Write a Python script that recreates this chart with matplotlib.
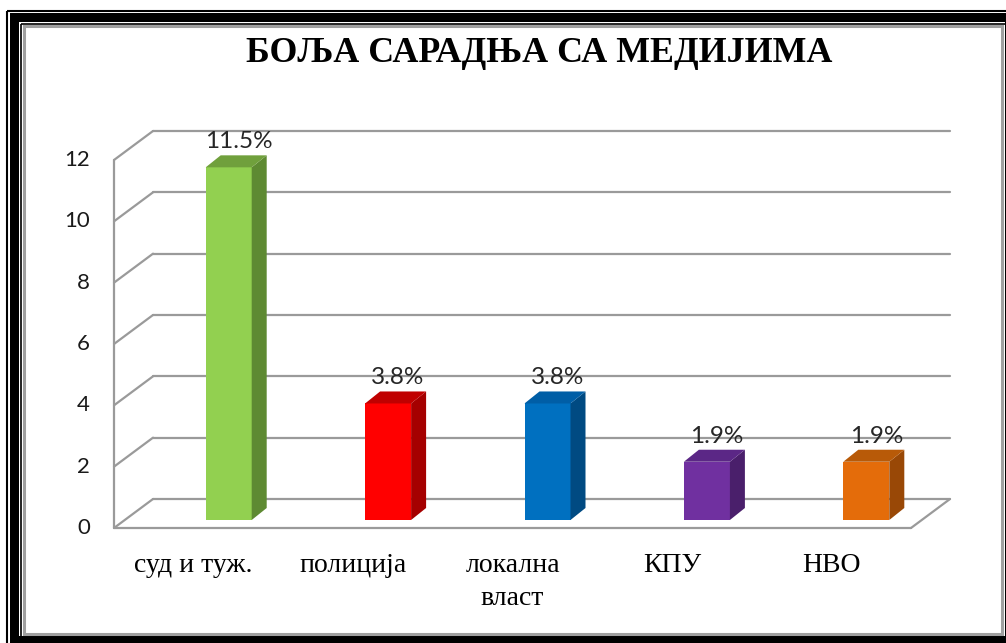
import matplotlib

matplotlib.use("Agg")
import matplotlib.pyplot as plt
from matplotlib.patches import Polygon, Rectangle

# data
categories = ["суд и туж.", "полиција", "локална\nвласт", "КПУ", "НВО"]
values = [11.5, 3.8, 3.8, 1.9, 1.9]
value_labels = ["11.5%", "3.8%", "3.8%", "1.9%", "1.9%"]
yticks = [0, 2, 4, 6, 8, 10, 12]
title = "БОЉА САРАДЊА СА МЕДИЈИМА"

front_colors = ["#92D050", "#FF0000", "#0070C0", "#7030A0", "#E46C0A"]
side_colors = ["#5E8A32", "#A50000", "#004A82", "#4A1F6B", "#994806"]
top_colors = ["#70A03C", "#C00000", "#005EA6", "#5B2786", "#B85A08"]

W, H = 1006, 643
fig = plt.figure(figsize=(W / 100, H / 100), dpi=100)
fig.patch.set_facecolor("white")

# decorative frame, in pixel coordinates
fr = fig.add_axes([0, 0, 1, 1], zorder=0)
fr.set_xlim(0, W)
fr.set_ylim(H, 0)
fr.axis("off")
fr.plot([7, 7], [11, 700], color="black", lw=1.5, solid_capstyle="butt")
fr.plot([7, 1100], [11, 11], color="black", lw=1.5, solid_capstyle="butt")
fr.add_patch(Rectangle((10, 13), 1200, 700, facecolor="black", edgecolor="none"))
fr.add_patch(Rectangle((19, 22), 1005 - 19, 636 - 22, facecolor="white", edgecolor="none"))
fr.plot([21.5, 21.5], [23.5, 636], color="black", lw=1.2, solid_capstyle="butt")
fr.plot([21.5, 1005], [23.5, 23.5], color="black", lw=1.2, solid_capstyle="butt")
fr.add_patch(Rectangle((24.5, 26), 1002.5 - 24.5, 633.5 - 26, facecolor="none",
                       edgecolor="#A0A0A0", lw=2.2))

# main chart axes = front plane of the 3D box
x_left, x_right, y_floor, y_top = 114, 911, 528, 160
ax = fig.add_axes([x_left / W, (H - y_floor) / H, (x_right - x_left) / W,
                   (y_floor - y_top) / H], zorder=1)
ax.patch.set_alpha(0)
ax.set_xlim(-0.5, len(categories) - 0.5)
ax.set_ylim(0, 12)
ax.axis("off")

px_x = (x_right - x_left) / len(categories)
px_y = (y_floor - y_top) / 12.0
DX, DY = 39 / px_x, 29 / px_y  # depth of the box

grid_kw = dict(color="#9A9A9A", lw=1.6, clip_on=False, zorder=1, solid_capstyle="round")
x0, x1 = -0.5, len(categories) - 0.5
for v in yticks:
    ax.plot([x0 + DX, x1 + DX], [v + DY, v + DY], **grid_kw)
    ax.plot([x0, x0 + DX], [v, v + DY], **grid_kw)
    ax.text(x0 - 24 / px_x, v, str(v), ha="right", va="center", fontsize=16,
            family="Lato", color="#1A1A1A")
ax.plot([x0, x0], [0, 12], **grid_kw)
ax.plot([x0, x1], [0, 0], **grid_kw)
ax.plot([x1, x1 + DX], [0, DY], **grid_kw)

# bars
shift = 35 / px_x
bw = 46 / px_x
base = 8 / px_y
bdx, bdy = 15 / px_x, 12 / px_y
for i, v in enumerate(values):
    l = i + shift - bw / 2
    r = i + shift + bw / 2
    top = base + v
    ax.add_patch(Polygon([(l, base), (r, base), (r, top), (l, top)], closed=True,
                         facecolor=front_colors[i], edgecolor="none", zorder=3, clip_on=False))
    ax.add_patch(Polygon([(r, base), (r + bdx, base + bdy), (r + bdx, top + bdy), (r, top)],
                         closed=True, facecolor=side_colors[i], edgecolor="none", zorder=3,
                         clip_on=False))
    ax.add_patch(Polygon([(l, top), (r, top), (r + bdx, top + bdy), (l + bdx, top + bdy)],
                         closed=True, facecolor=top_colors[i], edgecolor="none", zorder=3,
                         clip_on=False))
    ax.text(i + shift + 10 / px_x, top + bdy + 3 / px_y, value_labels[i], ha="center",
            va="bottom", fontsize=17.5, family="Lato", color="#262626", zorder=4)

# category labels
for i, c in enumerate(categories):
    ax.text(i, -25 / px_y, c, ha="center", va="top", fontsize=20,
            family="Liberation Serif", color="black", linespacing=1.4)

fig.text(539 / W, 1 - 54 / H, title, ha="center", va="center", fontsize=25.8,
         family="Liberation Serif", fontweight="bold", color="black")

fig.savefig("out.png", dpi=100)
